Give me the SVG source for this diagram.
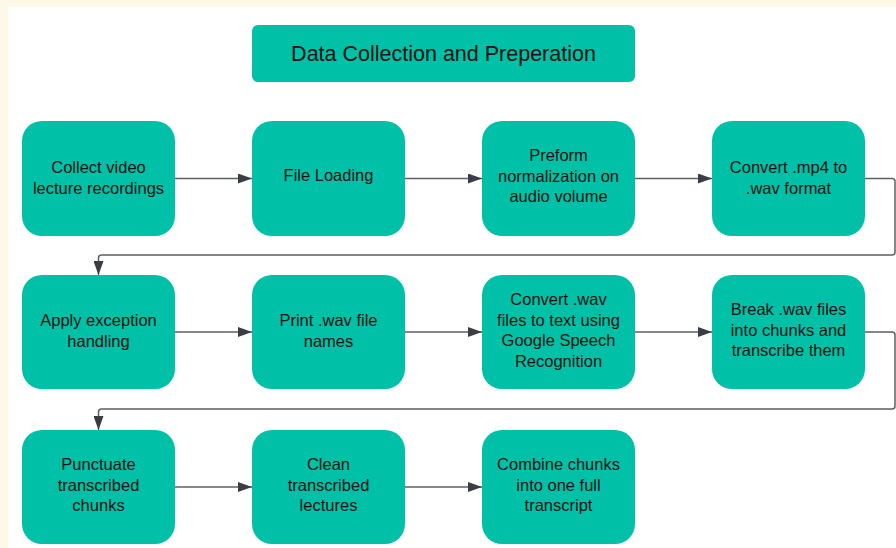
<svg xmlns="http://www.w3.org/2000/svg" width="896" height="548" viewBox="0 0 896 548">
<defs>
<style>
.bg{fill:#fef9e6}
.node rect{fill:#00c1a7}
.node text{font-family:"Liberation Sans",Arial,sans-serif;font-size:16.5px;fill:#111;text-anchor:middle}
.title text{font-size:21.5px}
.conn path{fill:none;stroke:#5c5f66;stroke-width:1.5}
</style>
<marker id="ah" viewBox="0 0 14 10" refX="14" refY="5" markerWidth="14" markerHeight="10" markerUnits="userSpaceOnUse" orient="auto">
<path d="M0,0 L14,5 L0,10 Z" fill="#3a3d44"/>
</marker>
</defs>
<rect class="bg" x="0" y="0" width="896" height="548"/>
<rect x="8" y="7" width="888" height="541" fill="#ffffff"/>

<g class="conn">
<path d="M175,178.5 H252" marker-end="url(#ah)"/>
<path d="M405,178.5 H482" marker-end="url(#ah)"/>
<path d="M635,178.5 H712" marker-end="url(#ah)"/>
<path d="M865,178.5 H892 Q895,178.5 895,181.5 V252 Q895,255 892,255 H101.5 Q98.5,255 98.5,258 V275" marker-end="url(#ah)"/>
<path d="M175,332 H252" marker-end="url(#ah)"/>
<path d="M405,332 H482" marker-end="url(#ah)"/>
<path d="M635,332 H712" marker-end="url(#ah)"/>
<path d="M865,332 H892 Q895,332 895,335 V406 Q895,409 892,409 H101.5 Q98.5,409 98.5,412 V430" marker-end="url(#ah)"/>
<path d="M175,487 H252" marker-end="url(#ah)"/>
<path d="M405,487 H482" marker-end="url(#ah)"/>
</g>

<g id="title" class="node title">
<rect x="252" y="25" width="383" height="57" rx="6"/>
<text x="443.5" y="60.5">Data Collection and Preperation</text>
</g>

<g id="n1" class="node">
<rect x="22" y="121" width="153" height="115" rx="20"/>
<text x="98.5" y="173">Collect video</text>
<text x="98.5" y="193.5">lecture recordings</text>
</g>
<g id="n2" class="node">
<rect x="252" y="121" width="153" height="115" rx="20"/>
<text x="328.5" y="181">File Loading</text>
</g>
<g id="n3" class="node">
<rect x="482" y="121" width="153" height="115" rx="20"/>
<text x="558.5" y="161">Preform</text>
<text x="558.5" y="181.5">normalization on</text>
<text x="558.5" y="202">audio volume</text>
</g>
<g id="n4" class="node">
<rect x="712" y="121" width="153" height="115" rx="20"/>
<text x="788.5" y="173">Convert .mp4 to</text>
<text x="788.5" y="193.5">.wav format</text>
</g>

<g id="n5" class="node">
<rect x="22" y="275" width="153" height="114" rx="20"/>
<text x="98.5" y="326">Apply exception</text>
<text x="98.5" y="346.5">handling</text>
</g>
<g id="n6" class="node">
<rect x="252" y="275" width="153" height="114" rx="20"/>
<text x="328.5" y="326">Print .wav file</text>
<text x="328.5" y="346.5">names</text>
</g>
<g id="n7" class="node">
<rect x="482" y="275" width="153" height="114" rx="20"/>
<text x="558.5" y="305">Convert .wav</text>
<text x="558.5" y="325.5">files to text using</text>
<text x="558.5" y="346">Google Speech</text>
<text x="558.5" y="366.5">Recognition</text>
</g>
<g id="n8" class="node">
<rect x="712" y="275" width="153" height="114" rx="20"/>
<text x="788.5" y="315">Break .wav files</text>
<text x="788.5" y="335.5">into chunks and</text>
<text x="788.5" y="356">transcribe them</text>
</g>

<g id="n9" class="node">
<rect x="22" y="430" width="153" height="114" rx="20"/>
<text x="98.5" y="470">Punctuate</text>
<text x="98.5" y="490.5">transcribed</text>
<text x="98.5" y="511">chunks</text>
</g>
<g id="n10" class="node">
<rect x="252" y="430" width="153" height="114" rx="20"/>
<text x="328.5" y="470">Clean</text>
<text x="328.5" y="490.5">transcribed</text>
<text x="328.5" y="511">lectures</text>
</g>
<g id="n11" class="node">
<rect x="482" y="430" width="153" height="114" rx="20"/>
<text x="558.5" y="470">Combine chunks</text>
<text x="558.5" y="490.5">into one full</text>
<text x="558.5" y="511">transcript</text>
</g>
</svg>
